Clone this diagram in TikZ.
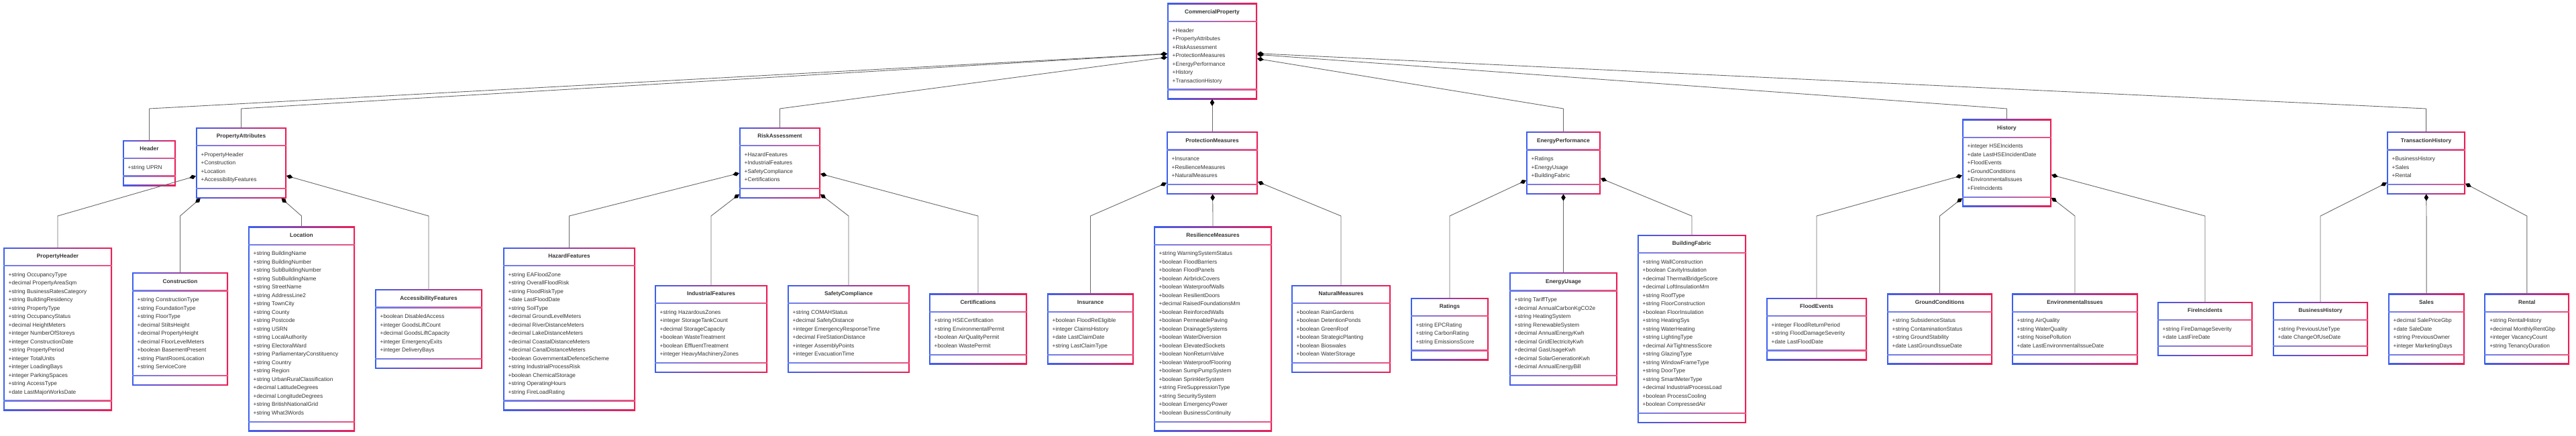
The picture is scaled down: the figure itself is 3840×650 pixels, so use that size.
\documentclass[tikz,border=0pt]{standalone}
\usepackage{fontspec}
\newfontfamily\umlfont{Liberation Sans}
\usetikzlibrary{arrows.meta}
\definecolor{cblue}{RGB}{60,95,240}
\definecolor{cred}{RGB}{236,30,85}
\definecolor{sblue}{RGB}{105,128,240}
\definecolor{sred}{RGB}{236,80,125}
\definecolor{txt}{RGB}{51,51,51}
\definecolor{linegray}{RGB}{105,105,105}
\tikzset{
  classbox/.style={rectangle, inner sep=0pt, outer sep=0pt, draw=none},
  classtitle/.style={inner sep=0pt, text=txt, font=\umlfont\bfseries\fontsize{8.3}{10}\selectfont, text height=6pt, text depth=1.7pt},
  classattr/.style={anchor=west, inner sep=0pt, text=txt, font=\umlfont\fontsize{8.3}{10}\selectfont, text height=6pt, text depth=1.7pt},
  comp/.style={draw=linegray, line width=0.9pt, {Diamond[length=10pt,width=6.5pt,color=black,fill=black]}-}
}
% #1 name, #2 left x, #3 centre y, #4 width, #5 number of attributes, #6 title, #7 attributes
\newcommand\umlclass[7]{%
  \pgfmathsetmacro\uh{55.5+12.5*#5}%
  \pgfmathsetmacro\ut{#3-\uh/2}%
  \pgfmathsetmacro\ucx{#2+#4/2}%
  \pgfmathsetmacro\ur{#2+#4}%
  \pgfmathsetmacro\usa{\ut+27}%
  \pgfmathsetmacro\usb{\ut+41+12.5*#5}%
  \node[classbox, minimum width=#4pt, minimum height=\uh pt] (#1) at (\ucx,#3) {};
  \shade[left color=cblue, right color=cred] (#1.north west) rectangle (#1.south east);
  \fill[white] ([shift={(1.8pt,-1.8pt)}]#1.north west) rectangle ([shift={(-1.8pt,1.8pt)}]#1.south east);
  \shade[left color=sblue, right color=sred] (#2,\usa-0.7) rectangle (\ur,\usa+0.7);
  \shade[left color=sblue, right color=sred] (#2,\usb-0.7) rectangle (\ur,\usb+0.7);
  \node[classtitle] (#1-title) at (\ucx,\ut+13.5) {#6};
  \foreach \ua [count=\ui] in {#7} {
    \node[classattr] (#1-a\ui) at (#2+7.5,\usa+14+12.5*\ui-12.5) {\ua};
  }
}
\begin{document}
\begin{tikzpicture}[x=1pt,y=-1pt]
\fill[white] (0,0) rectangle (3840,650);
\useasboundingbox (0,0) rectangle (3840,650);

% level 1
\umlclass{CP}{1740}{76.5}{134}{7}{CommercialProperty}{+Header,+PropertyAttributes,+RiskAssessment,+ProtectionMeasures,+EnergyPerformance,+History,+TransactionHistory}

% level 2
\umlclass{Header}{183}{243}{79}{1}{Header}{+string UPRN}
\umlclass{PA}{292}{243}{135}{4}{PropertyAttributes}{+PropertyHeader,+Construction,+Location,+AccessibilityFeatures}
\umlclass{RA}{1102}{243}{121}{4}{RiskAssessment}{+HazardFeatures,+IndustrialFeatures,+SafetyCompliance,+Certifications}
\umlclass{PM}{1739}{243}{136}{3}{ProtectionMeasures}{+Insurance,+ResilienceMeasures,+NaturalMeasures}
\umlclass{EP}{2275}{243}{111}{3}{EnergyPerformance}{+Ratings,+EnergyUsage,+BuildingFabric}
\umlclass{Hist}{2925}{243}{133}{6}{History}{+integer HSEIncidents,+date LastHSEIncidentDate,+FloodEvents,+GroundConditions,+EnvironmentalIssues,+FireIncidents}
\umlclass{TH}{3558}{243}{117}{3}{TransactionHistory}{+BusinessHistory,+Sales,+Rental}

% level 3
\umlclass{PH}{5}{490.5}{162}{15}{PropertyHeader}{+string OccupancyType,+decimal PropertyAreaSqm,+string BusinessRatesCategory,+string BuildingResidency,+string PropertyType,+string OccupancyStatus,+decimal HeightMeters,+integer NumberOfStoreys,+integer ConstructionDate,+string PropertyPeriod,+integer TotalUnits,+integer LoadingBays,+integer ParkingSpaces,+string AccessType,+date LastMajorWorksDate}
\umlclass{Con}{197}{490.5}{143}{9}{Construction}{+string ConstructionType,+string FoundationType,+string FloorType,+decimal StiltsHeight,+decimal PropertyHeight,+decimal FloorLevelMeters,+boolean BasementPresent,+string PlantRoomLocation,+string ServiceCore}
\umlclass{Loc}{370}{490.5}{159}{20}{Location}{+string BuildingName,+string BuildingNumber,+string SubBuildingNumber,+string SubBuildingName,+string StreetName,+string AddressLine2,+string TownCity,+string County,+string Postcode,+string USRN,+string LocalAuthority,+string ElectoralWard,+string ParliamentaryConstituency,+string Country,+string Region,+string UrbanRuralClassification,+decimal LatitudeDegrees,+decimal LongitudeDegrees,+string BritishNationalGrid,+string What3Words}
\umlclass{AF}{559}{490.5}{160}{5}{AccessibilityFeatures}{+boolean DisabledAccess,+integer GoodsLiftCount,+decimal GoodsLiftCapacity,+integer EmergencyExits,+integer DeliveryBays}
\umlclass{HF}{750}{490.5}{197}{15}{HazardFeatures}{+string EAFloodZone,+string OverallFloodRisk,+string FloodRiskType,+date LastFloodDate,+string SoilType,+decimal GroundLevelMeters,+decimal RiverDistanceMeters,+decimal LakeDistanceMeters,+decimal CoastalDistanceMeters,+decimal CanalDistanceMeters,+boolean GovernmentalDefenceScheme,+string IndustrialProcessRisk,+boolean ChemicalStorage,+string OperatingHours,+string FireLoadRating}
\umlclass{IF}{976}{490.5}{168}{6}{IndustrialFeatures}{+string HazardousZones,+integer StorageTankCount,+decimal StorageCapacity,+boolean WasteTreatment,+boolean EffluentTreatment,+integer HeavyMachineryZones}
\umlclass{SC}{1174}{490.5}{182}{6}{SafetyCompliance}{+string COMAHStatus,+decimal SafetyDistance,+integer EmergencyResponseTime,+decimal FireStationDistance,+integer AssemblyPoints,+integer EvacuationTime}
\umlclass{Cert}{1385}{490.5}{146}{4}{Certifications}{+string HSECertification,+string EnvironmentalPermit,+boolean AirQualityPermit,+boolean WastePermit}
\umlclass{Ins}{1561}{490.5}{129}{4}{Insurance}{+boolean FloodReEligible,+integer ClaimsHistory,+date LastClaimDate,+string LastClaimType}
\umlclass{RM}{1720}{490.5}{176}{20}{ResilienceMeasures}{+string WarningSystemStatus,+boolean FloodBarriers,+boolean FloodPanels,+boolean AirbrickCovers,+boolean WaterproofWalls,+boolean ResilientDoors,+decimal RaisedFoundationsMm,+boolean ReinforcedWalls,+boolean PermeablePaving,+boolean DrainageSystems,+boolean WaterDiversion,+boolean ElevatedSockets,+boolean NonReturnValve,+boolean WaterproofFlooring,+boolean SumpPumpSystem,+boolean SprinklerSystem,+string FireSuppressionType,+string SecuritySystem,+boolean EmergencyPower,+boolean BusinessContinuity}
\umlclass{NM}{1925}{490.5}{148}{6}{NaturalMeasures}{+boolean RainGardens,+boolean DetentionPonds,+boolean GreenRoof,+boolean StrategicPlanting,+boolean Bioswales,+boolean WaterStorage}
\umlclass{Rat}{2103}{490.5}{116}{3}{Ratings}{+string EPCRating,+string CarbonRating,+string EmissionsScore}
\umlclass{EU}{2250}{490.5}{161}{9}{EnergyUsage}{+string TariffType,+decimal AnnualCarbonKgCO2e,+string HeatingSystem,+string RenewableSystem,+decimal AnnualEnergyKwh,+decimal GridElectricityKwh,+decimal GasUsageKwh,+decimal SolarGenerationKwh,+decimal AnnualEnergyBill}
\umlclass{BF}{2441}{490.5}{162}{18}{BuildingFabric}{+string WallConstruction,+boolean CavityInsulation,+decimal ThermalBridgeScore,+decimal LoftInsulationMm,+string RoofType,+string FloorConstruction,+boolean FloorInsulation,+string HeatingSys,+string WaterHeating,+string LightingType,+decimal AirTightnessScore,+string GlazingType,+string WindowFrameType,+string DoorType,+string SmartMeterType,+decimal IndustrialProcessLoad,+boolean ProcessCooling,+boolean CompressedAir}
\umlclass{FE}{2633}{490.5}{150}{3}{FloodEvents}{+integer FloodReturnPeriod,+string FloodDamageSeverity,+date LastFloodDate}
\umlclass{GC}{2813}{490.5}{157}{4}{GroundConditions}{+string SubsidenceStatus,+string ContaminationStatus,+string GroundStability,+date LastGroundIssueDate}
\umlclass{EI}{2999}{490.5}{188}{4}{EnvironmentalIssues}{+string AirQuality,+string WaterQuality,+string NoisePollution,+date LastEnvironmentalIssueDate}
\umlclass{FI}{3216}{490.5}{142}{2}{FireIncidents}{+string FireDamageSeverity,+date LastFireDate}
\umlclass{BH}{3388}{490.5}{142}{2}{BusinessHistory}{+string PreviousUseType,+date ChangeOfUseDate}
\umlclass{Sales}{3560}{490.5}{114}{4}{Sales}{+decimal SalePriceGbp,+date SaleDate,+string PreviousOwner,+integer MarketingDays}
\umlclass{Rental}{3703.5}{490.5}{126.5}{4}{Rental}{+string RentalHistory,+decimal MonthlyRentGbp,+integer VacancyCount,+string TenancyDuration}

% elbow points, level 2
\coordinate (eHeader) at (222.5,162);
\coordinate (ePA) at (359.5,162);
\coordinate (eRA) at (1162.5,162);
\coordinate (ePM) at (1807,162);
\coordinate (eEP) at (2330.5,162);
\coordinate (eHist) at (2991.5,162);
\coordinate (eTH) at (3616.5,162);
% elbow points, level 3
\coordinate (ePH) at (86,322);
\coordinate (eCon) at (268.5,322);
\coordinate (eLoc) at (449.5,322);
\coordinate (eAF) at (639,322);
\coordinate (eHF) at (848.5,322);
\coordinate (eIF) at (1060,322);
\coordinate (eSC) at (1265,322);
\coordinate (eCert) at (1458,322);
\coordinate (eIns) at (1625.5,322);
\coordinate (eRM) at (1808,322);
\coordinate (eNM) at (1999,322);
\coordinate (eRat) at (2161,322);
\coordinate (eEU) at (2330.5,322);
\coordinate (eBF) at (2522,322);
\coordinate (eFE) at (2708,322);
\coordinate (eGC) at (2891.5,322);
\coordinate (eEI) at (3093,322);
\coordinate (eFI) at (3287,322);
\coordinate (eBH) at (3459,322);
\coordinate (eSales) at (3617,322);
\coordinate (eRental) at (3766.75,322);

% connectors
\foreach \p/\c in {CP/Header,CP/PA,CP/RA,CP/PM,CP/EP,CP/Hist,CP/TH,
  PA/PH,PA/Con,PA/Loc,PA/AF,
  RA/HF,RA/IF,RA/SC,RA/Cert,
  PM/Ins,PM/RM,PM/NM,
  EP/Rat,EP/EU,EP/BF,
  Hist/FE,Hist/GC,Hist/EI,Hist/FI,
  TH/BH,TH/Sales,TH/Rental}{
  \draw[comp] (\p) -- (e\c) -- (\c);
}
\end{tikzpicture}
\end{document}
